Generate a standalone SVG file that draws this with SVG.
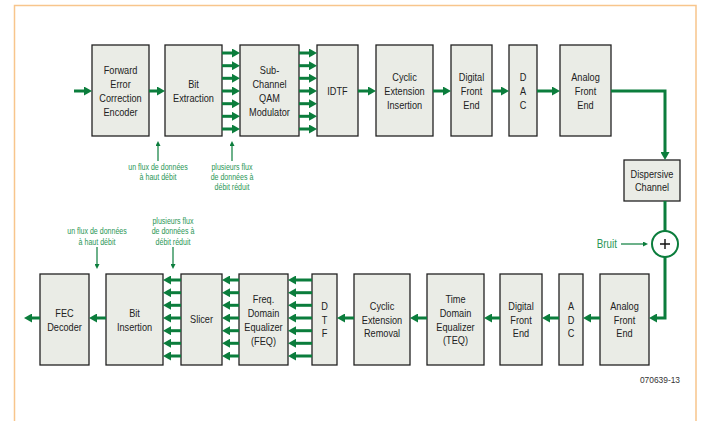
<svg xmlns="http://www.w3.org/2000/svg" width="701" height="421" viewBox="0 0 701 421">
<style>
.box{fill:#eaece6;stroke:#222;stroke-width:1.3}
.t{font-family:"Liberation Sans",Arial,sans-serif;font-size:11.2px;fill:#222;text-anchor:middle}
.a{font-family:"Liberation Sans",Arial,sans-serif;font-size:8.6px;fill:#2a9656;text-anchor:middle}
.w{stroke:#0b7d3c;stroke-width:3;fill:none}
.thin{stroke:#0b7d3c;stroke-width:1.2;fill:none}
</style>
<defs>
<marker id="ah" markerUnits="userSpaceOnUse" markerWidth="8" markerHeight="9" refX="4" refY="4.5" orient="auto">
<path d="M0,0 L8,4.5 L0,9 z" fill="#0b7d3c"/>
</marker>
<marker id="as" markerUnits="userSpaceOnUse" markerWidth="5" markerHeight="5" refX="3" refY="2.5" orient="auto">
<path d="M0,0 L5,2.5 L0,5 z" fill="#0b7d3c"/>
</marker>
</defs>
<rect width="701" height="421" fill="#fff"/>
<path d="M14.5,421 V5.5 H696 V421" fill="none" stroke="#f8c58c" stroke-width="1.5"/>

<g id="fec-encoder"><rect class="box" x="92" y="45" width="57" height="91"/>
<g transform="translate(120.5 0) scale(0.82 1)"><text class="t" x="0" y="74">Forward</text><text class="t" x="0" y="88">Error</text><text class="t" x="0" y="102">Correction</text><text class="t" x="0" y="116">Encoder</text></g></g>
<g id="bit-extraction"><rect class="box" x="165" y="45" width="57" height="91"/>
<g transform="translate(193.5 0) scale(0.82 1)"><text class="t" x="0" y="88">Bit</text><text class="t" x="0" y="102">Extraction</text></g></g>
<g id="qam-modulator"><rect class="box" x="240" y="45" width="59" height="91"/>
<g transform="translate(269.5 0) scale(0.82 1)"><text class="t" x="0" y="74">Sub-</text><text class="t" x="0" y="88">Channel</text><text class="t" x="0" y="102">QAM</text><text class="t" x="0" y="116">Modulator</text></g></g>
<g id="idtf"><rect class="box" x="317" y="45" width="41" height="91"/>
<g transform="translate(337.5 0) scale(0.82 1)"><text class="t" x="0" y="95">IDTF</text></g></g>
<g id="cyclic-insertion"><rect class="box" x="376" y="45" width="57" height="91"/>
<g transform="translate(404.5 0) scale(0.82 1)"><text class="t" x="0" y="81">Cyclic</text><text class="t" x="0" y="95">Extension</text><text class="t" x="0" y="109">Insertion</text></g></g>
<g id="dfe-tx"><rect class="box" x="451" y="45" width="41" height="91"/>
<g transform="translate(471.5 0) scale(0.82 1)"><text class="t" x="0" y="81">Digital</text><text class="t" x="0" y="95">Front</text><text class="t" x="0" y="109">End</text></g></g>
<g id="dac"><rect class="box" x="509" y="45" width="28" height="91"/>
<g transform="translate(523 0) scale(0.82 1)"><text class="t" x="0" y="81">D</text><text class="t" x="0" y="95">A</text><text class="t" x="0" y="109">C</text></g></g>
<g id="afe-tx"><rect class="box" x="560" y="45" width="51" height="91"/>
<g transform="translate(585.5 0) scale(0.82 1)"><text class="t" x="0" y="81">Analog</text><text class="t" x="0" y="95">Front</text><text class="t" x="0" y="109">End</text></g></g>
<g id="dispersive-channel"><rect class="box" x="624" y="160" width="56" height="41"/>
<g transform="translate(652 0) scale(0.82 1)"><text class="t" x="0" y="178">Dispersive</text><text class="t" x="0" y="191">Channel</text></g></g>
<g id="adder"><circle cx="665" cy="244" r="13" fill="#fff" stroke="#0b7d3c" stroke-width="2"/>
<path d="M660,244 H670 M665,239 V249" stroke="#111" stroke-width="1.4"/></g>

<g id="fec-decoder"><rect class="box" x="40" y="274" width="49" height="91"/>
<g transform="translate(64.5 0) scale(0.82 1)"><text class="t" x="0" y="317">FEC</text><text class="t" x="0" y="331">Decoder</text></g></g>
<g id="bit-insertion"><rect class="box" x="106" y="274" width="57" height="91"/>
<g transform="translate(134.5 0) scale(0.82 1)"><text class="t" x="0" y="317">Bit</text><text class="t" x="0" y="331">Insertion</text></g></g>
<g id="slicer"><rect class="box" x="181" y="274" width="41" height="91"/>
<g transform="translate(201.5 0) scale(0.82 1)"><text class="t" x="0" y="323">Slicer</text></g></g>
<g id="feq"><rect class="box" x="239" y="274" width="49" height="91"/>
<g transform="translate(263.5 0) scale(0.82 1)"><text class="t" x="0" y="303">Freq.</text><text class="t" x="0" y="317">Domain</text><text class="t" x="0" y="331">Equalizer</text><text class="t" x="0" y="345">(FEQ)</text></g></g>
<g id="dtf"><rect class="box" x="312" y="274" width="25" height="91"/>
<g transform="translate(324.5 0) scale(0.82 1)"><text class="t" x="0" y="310">D</text><text class="t" x="0" y="324">T</text><text class="t" x="0" y="337">F</text></g></g>
<g id="cyclic-removal"><rect class="box" x="354" y="274" width="56" height="91"/>
<g transform="translate(382 0) scale(0.82 1)"><text class="t" x="0" y="310">Cyclic</text><text class="t" x="0" y="324">Extension</text><text class="t" x="0" y="337">Removal</text></g></g>
<g id="teq"><rect class="box" x="427" y="274" width="57" height="91"/>
<g transform="translate(455.5 0) scale(0.82 1)"><text class="t" x="0" y="303">Time</text><text class="t" x="0" y="317">Domain</text><text class="t" x="0" y="331">Equalizer</text><text class="t" x="0" y="344">(TEQ)</text></g></g>
<g id="dfe-rx"><rect class="box" x="500" y="274" width="42" height="91"/>
<g transform="translate(521 0) scale(0.82 1)"><text class="t" x="0" y="310">Digital</text><text class="t" x="0" y="324">Front</text><text class="t" x="0" y="337">End</text></g></g>
<g id="adc"><rect class="box" x="559" y="274" width="24" height="91"/>
<g transform="translate(571 0) scale(0.82 1)"><text class="t" x="0" y="310">A</text><text class="t" x="0" y="324">D</text><text class="t" x="0" y="337">C</text></g></g>
<g id="afe-rx"><rect class="box" x="600" y="274" width="49" height="91"/>
<g transform="translate(624.5 0) scale(0.82 1)"><text class="t" x="0" y="310">Analog</text><text class="t" x="0" y="324">Front</text><text class="t" x="0" y="337">End</text></g></g>

<g id="connectors">
<path class="w" marker-end="url(#ah)" d="M74,91 H88"/>
<path class="w" marker-end="url(#ah)" d="M149,91 H161"/>
<path class="w" marker-end="url(#ah)" d="M222,53 H236"/><path class="w" marker-end="url(#ah)" d="M222,65.7 H236"/><path class="w" marker-end="url(#ah)" d="M222,78.3 H236"/><path class="w" marker-end="url(#ah)" d="M222,91 H236"/><path class="w" marker-end="url(#ah)" d="M222,103.7 H236"/><path class="w" marker-end="url(#ah)" d="M222,116.3 H236"/><path class="w" marker-end="url(#ah)" d="M222,129 H236"/>
<path class="w" marker-end="url(#ah)" d="M299,53 H313"/><path class="w" marker-end="url(#ah)" d="M299,65.7 H313"/><path class="w" marker-end="url(#ah)" d="M299,78.3 H313"/><path class="w" marker-end="url(#ah)" d="M299,91 H313"/><path class="w" marker-end="url(#ah)" d="M299,103.7 H313"/><path class="w" marker-end="url(#ah)" d="M299,116.3 H313"/><path class="w" marker-end="url(#ah)" d="M299,129 H313"/>
<path class="w" marker-end="url(#ah)" d="M358,91 H372"/>
<path class="w" marker-end="url(#ah)" d="M433,91 H447"/>
<path class="w" marker-end="url(#ah)" d="M492,91 H505"/>
<path class="w" marker-end="url(#ah)" d="M537,91 H556"/>
<path class="w" marker-end="url(#ah)" d="M611,91 H665 V156"/>
<path class="w" d="M665,201 V231"/>
<path class="w" marker-end="url(#ah)" d="M665,257 V318 H653"/>
<path class="thin" marker-end="url(#as)" d="M621,244 H646"/>
<path class="w" marker-end="url(#ah)" d="M600,318 H587"/>
<path class="w" marker-end="url(#ah)" d="M559,318 H546"/>
<path class="w" marker-end="url(#ah)" d="M500,318 H488"/>
<path class="w" marker-end="url(#ah)" d="M427,318 H414"/>
<path class="w" marker-end="url(#ah)" d="M354,318 H341"/>
<path class="w" marker-end="url(#ah)" d="M312,280 H292"/><path class="w" marker-end="url(#ah)" d="M312,292.7 H292"/><path class="w" marker-end="url(#ah)" d="M312,305.3 H292"/><path class="w" marker-end="url(#ah)" d="M312,318 H292"/><path class="w" marker-end="url(#ah)" d="M312,330.7 H292"/><path class="w" marker-end="url(#ah)" d="M312,343.3 H292"/><path class="w" marker-end="url(#ah)" d="M312,356 H292"/>
<path class="w" marker-end="url(#ah)" d="M239,280 H226"/><path class="w" marker-end="url(#ah)" d="M239,292.7 H226"/><path class="w" marker-end="url(#ah)" d="M239,305.3 H226"/><path class="w" marker-end="url(#ah)" d="M239,318 H226"/><path class="w" marker-end="url(#ah)" d="M239,330.7 H226"/><path class="w" marker-end="url(#ah)" d="M239,343.3 H226"/><path class="w" marker-end="url(#ah)" d="M239,356 H226"/>
<path class="w" marker-end="url(#ah)" d="M181,280 H167"/><path class="w" marker-end="url(#ah)" d="M181,292.7 H167"/><path class="w" marker-end="url(#ah)" d="M181,305.3 H167"/><path class="w" marker-end="url(#ah)" d="M181,318 H167"/><path class="w" marker-end="url(#ah)" d="M181,330.7 H167"/><path class="w" marker-end="url(#ah)" d="M181,343.3 H167"/><path class="w" marker-end="url(#ah)" d="M181,356 H167"/>
<path class="w" marker-end="url(#ah)" d="M106,318 H93"/>
<path class="w" marker-end="url(#ah)" d="M40,318 H28"/>
<path class="thin" marker-end="url(#as)" d="M158,161 V143"/>
<path class="thin" marker-end="url(#as)" d="M232,161 V143"/>
<path class="thin" marker-end="url(#as)" d="M97,247 V267"/>
<path class="thin" marker-end="url(#as)" d="M173,247 V267"/>
</g>

<g id="labels">
<g transform="translate(158 0) scale(0.82 1)"><text class="a" x="0" y="170">un flux de données</text><text class="a" x="0" y="180">à haut débit</text></g>
<g transform="translate(232 0) scale(0.82 1)"><text class="a" x="0" y="170">plusieurs flux</text><text class="a" x="0" y="180">de données à</text><text class="a" x="0" y="190">débit réduit</text></g>
<g transform="translate(97 0) scale(0.82 1)"><text class="a" x="0" y="234">un flux de données</text><text class="a" x="0" y="245">à haut débit</text></g>
<g transform="translate(173 0) scale(0.82 1)"><text class="a" x="0" y="224">plusieurs flux</text><text class="a" x="0" y="234.5">de données à</text><text class="a" x="0" y="245">débit réduit</text></g>
<g transform="translate(617 0) scale(0.82 1)"><text class="a" x="0" y="248" style="font-size:12px;text-anchor:end">Bruit</text></g>
<text class="a" x="680" y="383" style="fill:#333;text-anchor:end;font-size:8.4px">070639-13</text>
</g>
</svg>
